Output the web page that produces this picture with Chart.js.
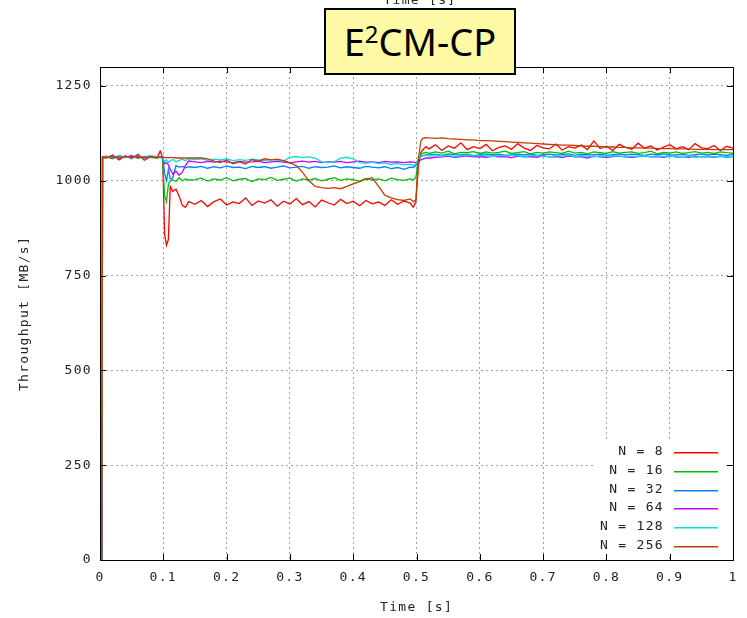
<!DOCTYPE html>
<html>
<head>
<meta charset="utf-8">
<script src="https://cdn.jsdelivr.net/npm/chart.js@4"></script>
<style>
  html, body { margin: 0; padding: 0; background: #fff; overflow: hidden; }
  #wrap { position: relative; width: 747px; height: 618px; }
  #c { position: absolute; left: 0; top: 0; }
  #x2title { position: absolute; left: 0; width: 840px; top: -8px; text-align: center;
    font: 13px "DejaVu Sans Mono", monospace; letter-spacing: 1.3px; color: #222; }
  #titlebox { position: absolute; left: 324px; top: 8px; width: 188px; height: 63px;
    background: #fdf9a5; border: 2px solid #000; text-align: center;
    font: 38px "Comic Sans MS", "Noto Sans", sans-serif; line-height: 63px; color: #000; }
  #titlebox sup { font-size: 24px; vertical-align: 13px; line-height: 0; }
</style>
</head>
<body>
<div id="wrap">
  <canvas id="c" width="747" height="618"></canvas>
  <div id="x2title">Time [s]</div>
  <div id="titlebox">E<sup>2</sup>CM-CP</div>
</div>
<script>
const times = [0,0.003,0.004,0.01,0.02,0.03,0.04,0.05,0.06,0.07,0.08,0.09,0.095,0.099,
  0.102,0.105,0.108,0.111,0.115,0.12,0.125,0.13,0.135,0.14,
  0.15,0.16,0.17,0.18,0.19,0.2,0.21,0.22,0.23,0.24,0.25,0.26,0.27,0.28,0.29,0.3,0.31,0.32,0.33,0.34,
  0.35,0.36,0.37,0.38,0.39,0.4,0.41,0.42,0.43,0.44,0.45,0.46,0.47,0.48,0.49,
  0.495,0.499,0.503,0.507,0.51,0.515,
  0.52,0.53,0.54,0.55,0.56,0.57,0.58,0.59,0.6,0.61,0.62,0.63,0.64,0.65,0.66,0.67,0.68,0.69,0.7,
  0.71,0.72,0.73,0.74,0.75,0.76,0.77,0.78,0.79,0.8,0.81,0.82,0.83,0.84,0.85,0.86,0.87,0.88,0.89,0.9,
  0.91,0.92,0.93,0.94,0.95,0.96,0.97,0.98,0.99,1.0];

const n8 = [620,0,1062,1060,1068,1055,1066,1058,1070,1054,1064,1060,1078,1062,
  860,830,845,985,972,978,960,935,930,945,
  938,948,932,945,952,936,944,940,955,935,947,941,950,933,946,939,953,937,945,931,
  949,942,936,951,940,946,934,948,939,944,935,950,938,946,941,
  930,945,1040,1075,1082,1090,
  1084,1095,1080,1092,1086,1100,1082,1090,1085,1096,1079,1088,1092,1083,1098,1086,1080,1093,1087,1084,
  1097,1081,1090,1086,1094,1082,1105,1085,1091,1080,1096,1088,1083,1099,1086,1092,1081,1089,1095,1084,
  1090,1082,1098,1087,1085,1093,1080,1091,1086];

const n16 = [615,0,1060,1063,1058,1066,1061,1065,1059,1064,1062,1060,1064,1058,
  960,945,990,1000,1003,998,1008,1000,1005,1002,
  1003,1007,999,1005,1002,1008,1000,1004,1006,998,1005,1003,1009,1001,1004,1007,999,1005,1002,1006,
  1000,1004,1008,1001,1005,1003,999,1006,1002,1005,1000,1007,1003,1001,1005,
  1002,1010,1055,1070,1073,1075,
  1072,1076,1073,1078,1071,1075,1074,1077,1072,1076,1073,1075,1078,1072,1074,1077,1071,1075,1073,1076,
  1074,1072,1078,1073,1075,1071,1076,1074,1072,1077,1073,1075,1076,1072,1074,1078,1071,1075,1073,1076,
  1072,1074,1077,1073,1075,1072,1076,1074,1073];

const n32 = [618,0,1061,1062,1065,1060,1064,1061,1066,1060,1063,1062,1061,1063,
  1020,1000,1030,1005,1008,1040,1036,1038,1034,1037,
  1035,1038,1033,1037,1034,1039,1035,1036,1032,1038,1035,1037,1033,1036,1039,1034,1036,1038,1033,1037,
  1035,1036,1039,1034,1037,1035,1033,1038,1036,1034,1037,1032,1035,1030,1036,
  1035,1040,1055,1064,1067,1068,
  1068,1070,1067,1071,1069,1068,1070,1066,1069,1071,1068,1070,1067,1069,1070,1068,1071,1067,1069,1070,
  1068,1069,1071,1067,1070,1068,1069,1070,1067,1069,1071,1068,1070,1069,1067,1070,1068,1071,1069,1068,
  1070,1067,1069,1071,1068,1070,1069,1067,1070];

const n64 = [622,0,1063,1064,1060,1065,1062,1066,1061,1063,1065,1062,1063,1062,
  1045,1048,1042,1030,1018,1025,1015,1022,1040,1052,
  1050,1048,1051,1049,1052,1050,1047,1051,1049,1050,1052,1048,1050,1051,1049,1047,1050,1052,1049,1051,
  1048,1050,1049,1051,1048,1050,1052,1049,1050,1048,1051,1049,1050,1048,1050,
  1049,1048,1052,1055,1057,1060,
  1060,1062,1063,1065,1062,1064,1066,1063,1064,1062,1065,1063,1064,1061,1065,1063,1064,1062,1066,1063,
  1064,1062,1065,1063,1064,1060,1065,1063,1062,1064,1065,1063,1062,1064,1066,1063,1064,1062,1065,1063,
  1064,1062,1065,1063,1064,1062,1065,1063,1064];

const n128 = [619,0,1062,1065,1061,1066,1063,1060,1065,1062,1066,1063,1064,1062,
  1050,1055,1048,1052,1056,1050,1054,1057,1053,1058,
  1056,1058,1054,1057,1055,1058,1053,1056,1054,1057,1055,1053,1056,1054,1052,1062,1064,1061,1063,1060,
  1050,1048,1050,1060,1062,1058,1048,1046,1049,1045,1047,1043,1046,1042,1044,
  1040,1045,1058,1064,1066,1067,
  1066,1068,1065,1067,1064,1066,1068,1065,1067,1066,1064,1067,1065,1068,1066,1064,1066,1067,1065,1063,
  1066,1065,1067,1064,1066,1065,1063,1066,1064,1066,1065,1063,1065,1064,1066,1063,1065,1064,1066,1063,
  1064,1065,1062,1064,1065,1063,1064,1062,1064];

const n256 = [625,0,1063,1062,1064,1061,1063,1062,1064,1061,1063,1062,1063,1062,
  1061,1061,1061,1061,1061,1060,1060,1060,1060,1060,
  1060,1060,1058,1052,1048,1055,1045,1050,1044,1056,1052,1058,1055,1057,1053,1048,1040,1022,1000,985,
  982,980,982,979,985,992,998,1004,1008,985,962,955,950,948,952,
  945,950,1060,1105,1112,1114,
  1113,1112,1113,1111,1110,1109,1108,1108,1106,1106,1105,1104,1103,1102,1101,1100,1099,1098,1097,1096,
  1095,1094,1094,1093,1092,1091,1091,1090,1089,1089,1088,1088,1087,1087,1086,1086,1085,1085,1085,1084,
  1084,1084,1083,1083,1083,1082,1082,1082,1082];

const seriesLabels = ['N = 8', 'N = 16', 'N = 32', 'N = 64', 'N = 128', 'N = 256'];
const seriesValues = [n8, n16, n32, n64, n128, n256];
const seriesColors = ['#ff0000', '#00c000', '#0080ff', '#c000ff', '#00e0e0', '#c04000'];
const yTicks = [0, 250, 500, 750, 1000, 1250];
const xTicks = [0, 0.1, 0.2, 0.3, 0.4, 0.5, 0.6, 0.7, 0.8, 0.9, 1];
const xTickLabels = ['0', '0.1', '0.2', '0.3', '0.4', '0.5', '0.6', '0.7', '0.8', '0.9', '1'];

const FONT = '"DejaVu Sans Mono", "Liberation Mono", monospace';

const framePlugin = {
  id: 'frame',
  beforeDraw(chart) {
    chart.ctx.letterSpacing = '1.3px';
  },
  afterDatasetsDraw(chart) {
    const {ctx, chartArea: a, scales} = chart;
    ctx.save();
    // opaque key box
    ctx.fillStyle = '#fff';
    ctx.fillRect(594, 441, 131, 114);
    ctx.font = '13px ' + FONT;
    ctx.textAlign = 'right';
    ctx.textBaseline = 'middle';
    chart.data.datasets.forEach((ds, i) => {
      const y = Math.round(452 + i * 18.8);
      ctx.fillStyle = '#222';
      ctx.fillText(ds.label, 664, y);
      ctx.fillStyle = ds.borderColor;
      ctx.fillRect(674, y, 44, 1.5);
    });
    // frame
    ctx.strokeStyle = '#000';
    ctx.lineWidth = 1;
    ctx.strokeRect(Math.round(a.left) + 0.5, Math.round(a.top) + 0.5,
      Math.round(a.right - a.left), Math.round(a.bottom - a.top));
    // inward ticks
    ctx.beginPath();
    scales.x.ticks.forEach(t => {
      const x = Math.round(scales.x.getPixelForValue(t.value)) + 0.5;
      ctx.moveTo(x, a.bottom); ctx.lineTo(x, a.bottom - 6);
      ctx.moveTo(x, a.top); ctx.lineTo(x, a.top + 6);
    });
    scales.y.ticks.forEach(t => {
      const y = Math.round(scales.y.getPixelForValue(t.value)) + 0.5;
      ctx.moveTo(a.left, y); ctx.lineTo(a.left + 6, y);
      ctx.moveTo(a.right, y); ctx.lineTo(a.right - 6, y);
    });
    ctx.stroke();
    ctx.restore();
  }
};

new Chart(document.getElementById('c'), {
  type: 'line',
  data: {
    datasets: seriesLabels.map((label, i) => ({
      label,
      data: times.map((t, k) => ({x: t, y: seriesValues[i][k]})),
      borderColor: seriesColors[i],
      backgroundColor: seriesColors[i],
      borderWidth: 1.3,
      pointRadius: 0,
      tension: 0,
      fill: false,
      order: seriesLabels.length - 1 - i
    }))
  },
  options: {
    responsive: false,
    animation: false,
    devicePixelRatio: 1,
    layout: {padding: {left: 0, right: 8, top: 67, bottom: 0}},
    plugins: {legend: {display: false}, tooltip: {enabled: false}},
    scales: {
      x: {
        type: 'linear', min: 0, max: 1,
        afterFit(s) { s.height = 58; },
        afterBuildTicks(s) { s.ticks = xTicks.map(v => ({value: v})); },
        ticks: {padding: 10, color: '#222', maxRotation: 0, autoSkip: false,
          font: {family: FONT, size: 13},
          callback: (v, i) => xTickLabels[i]},
        grid: {color: '#a0a0a0', lineWidth: 1, drawTicks: false},
        border: {display: true, color: '#000', dash: [2, 3]},
        title: {display: true, text: 'Time [s]', color: '#222',
          font: {family: FONT, size: 13}, padding: {top: 0, bottom: 3}}
      },
      y: {
        min: 0, max: 1300,
        afterFit(s) { s.width = 100; },
        afterBuildTicks(s) { s.ticks = yTicks.map(v => ({value: v})); },
        ticks: {padding: 8, color: '#222', autoSkip: false,
          font: {family: FONT, size: 13},
          callback: v => String(v)},
        grid: {color: '#a0a0a0', lineWidth: 1, drawTicks: false},
        border: {display: true, color: '#000', dash: [2, 3]},
        title: {display: true, text: 'Throughput [MB/s]', color: '#222',
          font: {family: FONT, size: 13}, padding: {top: 17, bottom: 0}}
      }
    }
  },
  plugins: [framePlugin]
});
</script>
</body>
</html>
